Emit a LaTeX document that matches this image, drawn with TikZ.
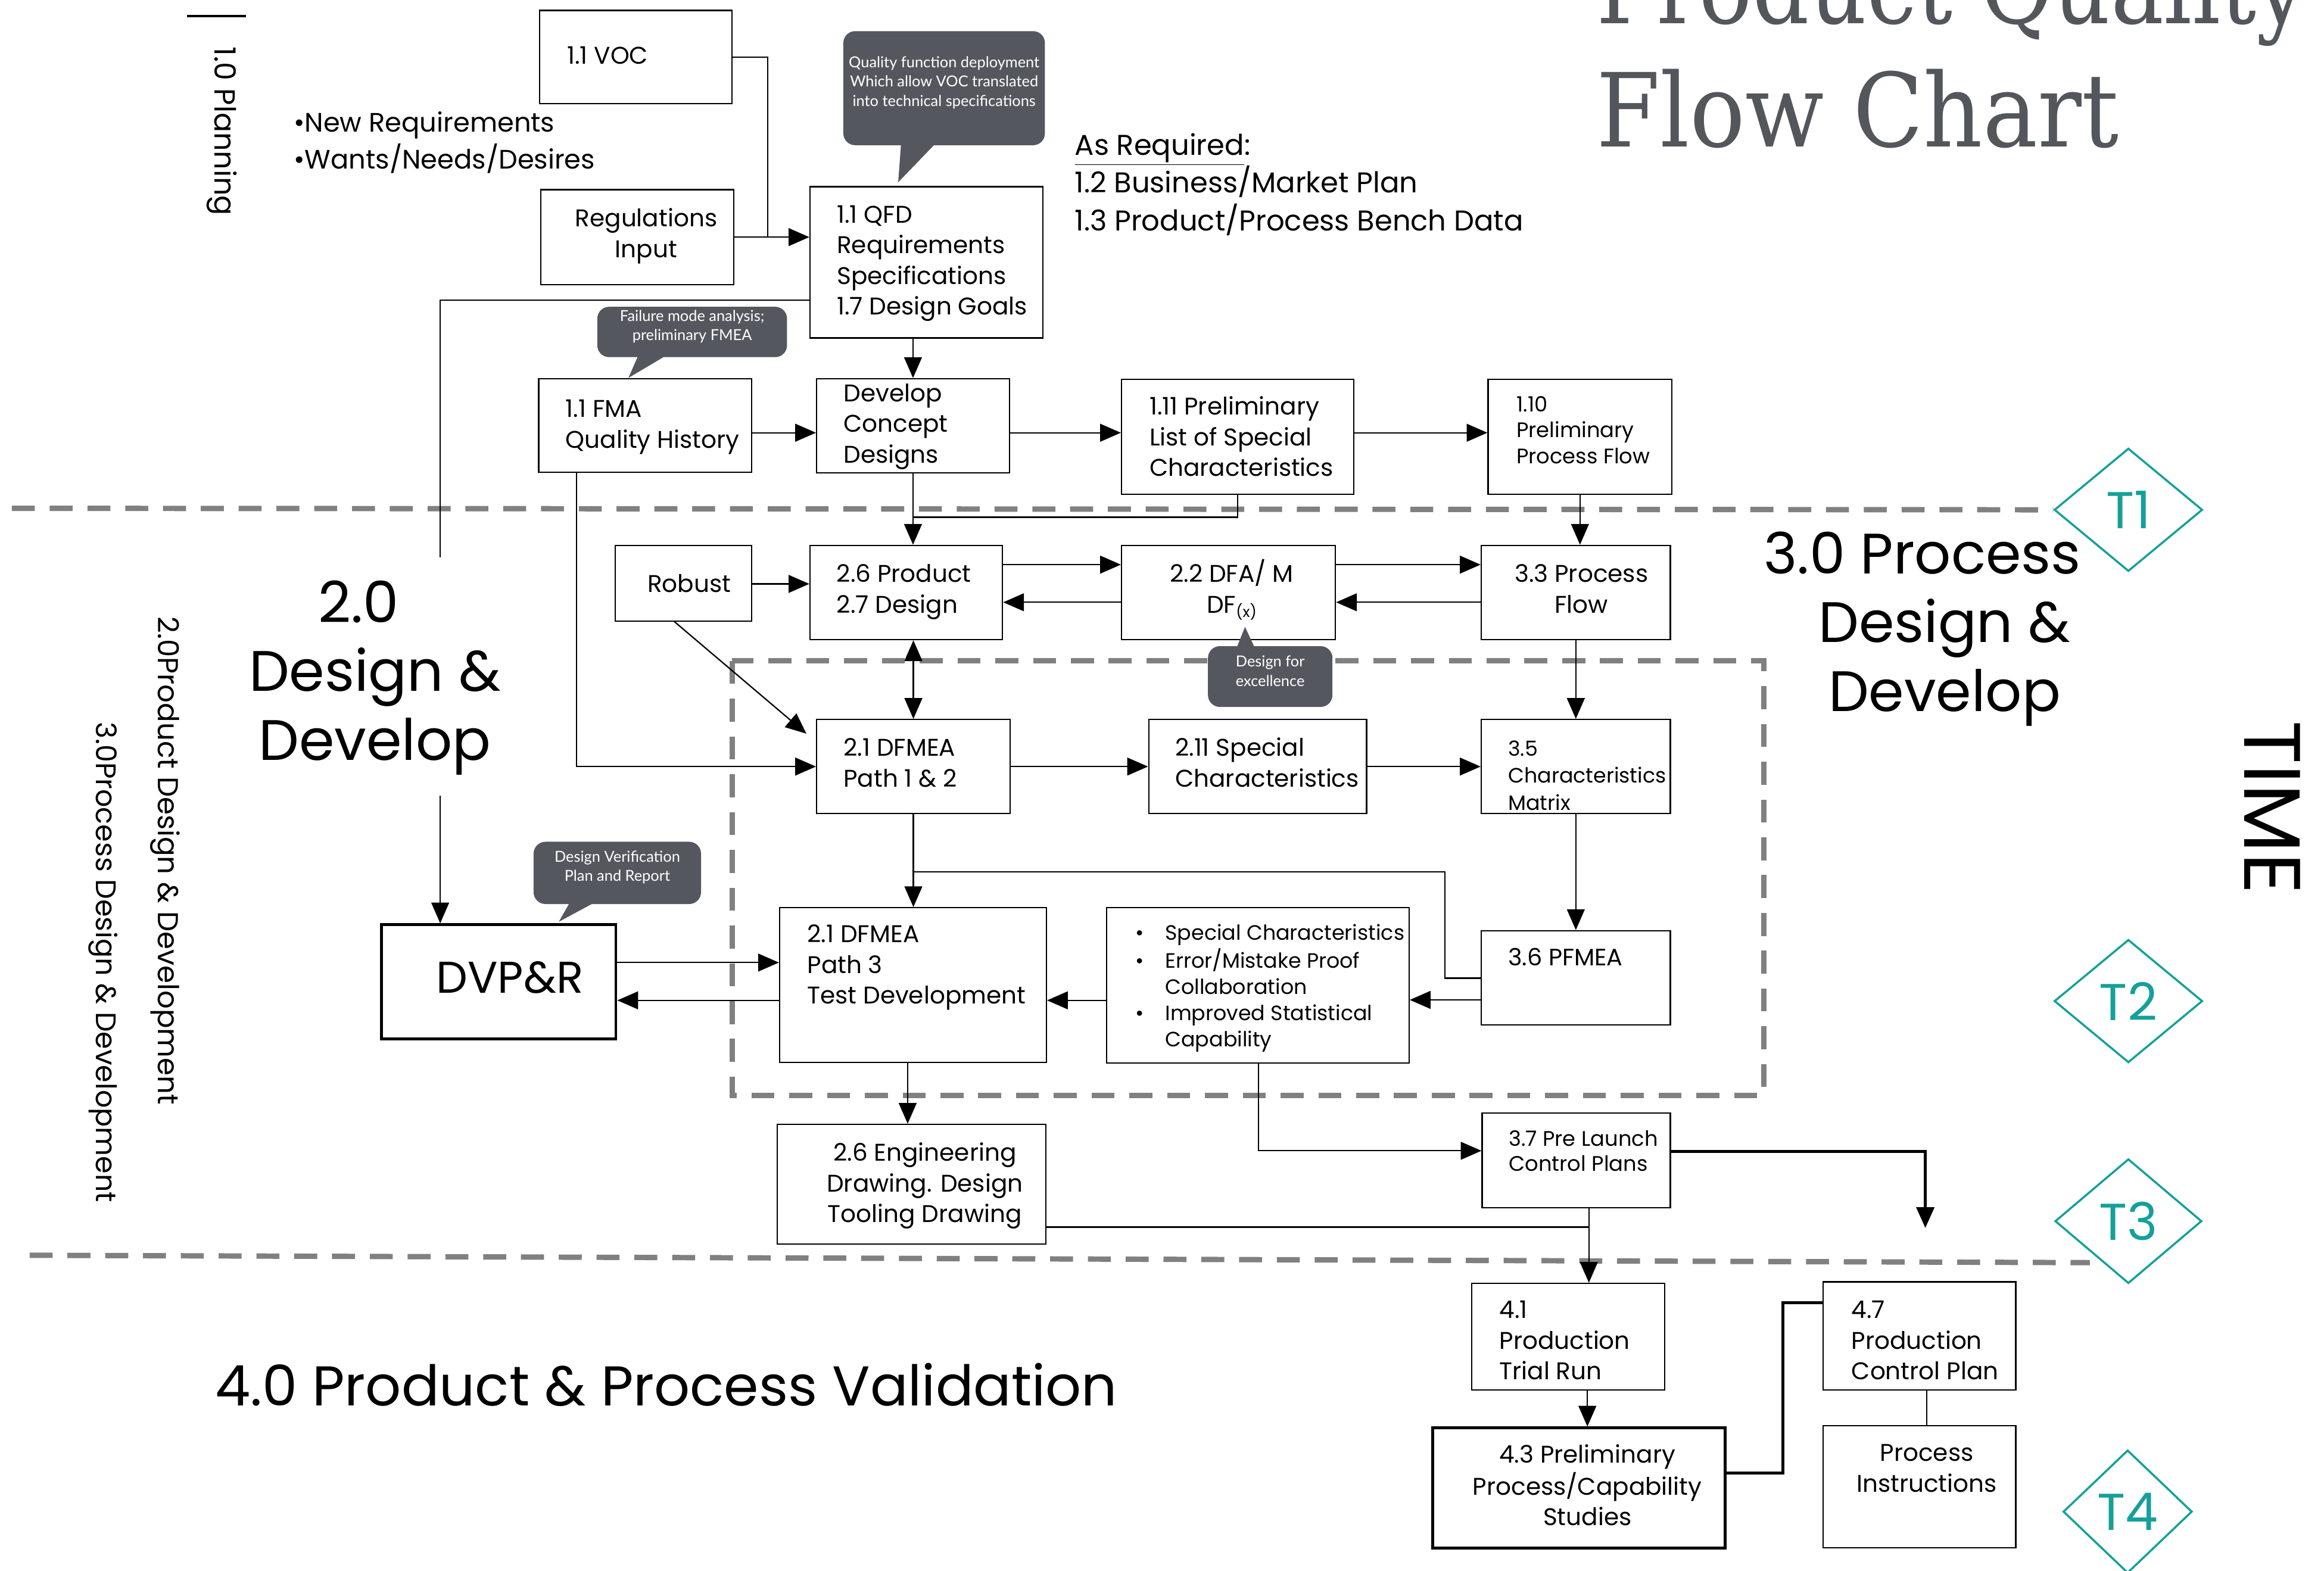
\documentclass[tikz,border=0pt]{standalone}
\usepackage{fontspec}
\setmainfont{Poppins}
\newfontfamily\notefont{Lato}
\newfontfamily\titlefont{DejaVu Serif}
\usetikzlibrary{arrows.meta,shapes.geometric,fit}
\definecolor{notegray}{HTML}{54585E}
\definecolor{sepgray}{HTML}{808080}
\definecolor{markteal}{HTML}{15A09A}
\definecolor{titlegray}{HTML}{53575C}
\newcommand\txtl[1]{\begin{tabular}[t]{@{}l@{}}#1\end{tabular}}
\newcommand\txtc[1]{\begin{tabular}[t]{@{}c@{}}#1\end{tabular}}
\newcommand\fmain{\fontsize{16.3}{20.7}\selectfont}
\newcommand\fsmall{\fontsize{14}{17.7}\selectfont}
\newcommand\fside{\fontsize{18}{24.8}\selectfont}
\newcommand\fhuge{\fontsize{38.5}{46.5}\selectfont}
\begin{document}
\begin{tikzpicture}[x=1pt,y=-1pt,
  box/.style={draw=black,line width=0.9pt,inner sep=0pt,fill=white},
  heavy/.style={box,line width=2pt},
  wire/.style={draw=black,line width=0.9pt},
  flow/.style={wire,-{Triangle[length=14pt,width=12pt]}},
  bothflow/.style={wire,{Triangle[length=14pt,width=12pt]}-{Triangle[length=14pt,width=12pt]}},
  boldwire/.style={draw=black,line width=1.8pt},
  sep/.style={draw=sepgray,line width=3.6pt,dash pattern=on 15.5pt off 10pt},
  note/.style={fill=notegray,rounded corners=8pt,inner sep=0pt,text=white,
    font=\notefont\fontsize{10.2}{13}\selectfont,align=center},
  txt/.style={inner sep=0pt,anchor=base west,font=\fmain},
  ctxt/.style={inner sep=0pt,anchor=base,font=\fmain},
  gate/.style={diamond,draw=markteal,line width=1.4pt,inner sep=0pt,text=markteal,
    font=\fontsize{35}{35}\selectfont},
  side/.style={inner sep=0pt,anchor=base west,rotate=-90},
]
\useasboundingbox (0,0) rectangle (1568,1059.7);

% ---------- phase separators ----------
\node[gate,minimum width=100pt,minimum height=83pt] (t1) at (1436,344) {T1};
\node[gate,minimum width=100pt,minimum height=83pt] (t2) at (1436,675.5) {T2};
\node[gate,minimum width=99pt,minimum height=84pt] (t3) at (1436,824) {T3};
\node[gate,minimum width=87pt,minimum height=83pt] (t4) at (1435.5,1020) {T4};
\coordinate (s1a) at (8,343);
\draw[sep] (s1a) -- (t1.west);
\coordinate (s3a) at (20,847);
\coordinate (s3b) at (1410,852);
\draw[sep] (s3a) -- (s3b);
\draw[sep] (494,446) rectangle (1190,739);

% ---------- title ----------
\node[inner sep=0pt,anchor=base west,text=titlegray,font=\titlefont\fontsize{69}{69}\selectfont]
  (title1) at (1077,16) {\scalebox{0.87}[1]{Product Quality}};
\node[inner sep=0pt,anchor=base west,text=titlegray,font=\titlefont\fontsize{69}{69}\selectfont]
  (title2) at (1077,99) {\scalebox{0.9}[1]{Flow Chart}};

% ---------- side headings ----------
\draw[line width=1.6pt] (126,11) -- (166,11);
\node[side,font=\fontsize{19.7}{20}\selectfont] (plan) at (144.7,31.5) {1.0 Planning};
\node[side,font=\fontsize{19.4}{20}\selectfont] (prodside) at (106.5,416) {2.0Product Design \& Development};
\node[side,font=\fontsize{19.1}{20}\selectfont] (procside) at (65,487) {3.0Process Design \& Development};
\node[side,font=\fontsize{54}{54}\selectfont] (time) at (1514.3,486.3) {TIME};
\node[inner sep=0pt,anchor=base,font=\fhuge] (ph2) at (253,420) {\txtc{2.0\hspace*{22pt}\\Design \&\\Develop}};
\node[inner sep=0pt,anchor=base,font=\fhuge] (ph3) at (1312,387) {\txtc{3.0 Process\hspace*{30pt}\\Design \&\\Develop}};
\node[inner sep=0pt,anchor=base west,font=\fontsize{37.8}{40}\selectfont] (ph4) at (145,948.6)
  {4.0 Product \& Process Validation};
\node[inner sep=0pt,anchor=base west,font=\fside] (needs) at (198,89)
  {\txtl{\textbullet New Requirements\\\textbullet Wants/Needs/Desires}};
\node[inner sep=0pt,anchor=base west,font=\fontsize{19.3}{24.7}\selectfont] (asreq) at (725,104.6)
  {\txtl{\underline{As Required}:\\1.2 Business/Market Plan\\1.3 Product/Process Bench Data}};

% ---------- boxes ----------
\node[box,fit={(364,7) (494,70)}] (voc) {};
\node[box,fit={(365,128) (495,192)}] (reg) {};
\node[box,fit={(546.5,126) (703.6,228)}] (qfd) {};
\node[box,fit={(363.5,255.6) (507,318.7)}] (fma) {};
\node[box,fit={(551,255.5) (681,319)}] (dev) {};
\node[box,fit={(756.7,256) (913.4,333.5)}] (p111) {};
\node[box,fit={(1004,256) (1128,333.5)}] (p110) {};
\node[box,fit={(415,368) (507,419)}] (rob) {};
\node[box,fit={(546.5,368) (676.4,431.6)}] (p26) {};
\node[box,fit={(756.7,368) (901,431.6)}] (p22) {};
\node[box,fit={(999.4,368) (1127,431.6)}] (p33) {};
\node[box,fit={(551,485.5) (681.5,549)}] (p21) {};
\node[box,fit={(775,485.5) (922,549)}] (p211) {};
\node[box,fit={(999.4,485.5) (1127,549)}] (p35) {};
\node[box,fit={(526,612.5) (706,717)}] (pth3) {};
\node[box,fit={(746.5,612.5) (950.7,717.3)}] (bul) {};
\node[box,fit={(999.4,628) (1127,691.6)}] (p36) {};
\node[heavy,fit={(257.5,624) (415.5,701)}] (dvp) {};
\node[box,fit={(524.5,758.7) (705.7,839.5)}] (eng) {};
\node[box,fit={(1000,751) (1127,815)}] (p37) {};
\node[box,fit={(993,866) (1123,938)}] (p41) {};
\node[heavy,fit={(966.5,963.6) (1164,1044.5)}] (p43) {};
\node[box,fit={(1230,865) (1360,938)}] (p47) {};
\node[box,fit={(1230,962) (1360,1044.5)}] (pinst) {};

% ---------- box texts ----------
\node[txt] (voc-t) at (382.5,43) {1.1 VOC};
\node[ctxt] (reg-t) at (436,153) {\txtc{Regulations\\Input}};
\node[txt] (qfd-t) at (564.5,150.3) {\txtl{1.1 QFD\\Requirements\\Specifications\\1.7 Design Goals}};
\node[txt] (fma-t) at (381.5,281.5) {\txtl{1.1 FMA\\Quality History}};
\node[txt] (dev-t) at (569,271) {\txtl{Develop\\Concept\\Designs}};
\node[txt] (p111-t) at (775.4,280) {\txtl{1.11 Preliminary\\List of Special\\Characteristics}};
\node[txt,font=\fontsize{14.2}{17.5}\selectfont] (p110-t) at (1023,277.7) {\txtl{1.10\\Preliminary\\Process Flow}};
\node[ctxt] (rob-t) at (465,399.6) {Robust};
\node[txt] (p26-t) at (564.3,392.8) {\txtl{2.6 Product\\2.7 Design}};
\node[ctxt] (p22-t) at (831,392.8) {\txtc{2.2 DFA/ M\\DF\raisebox{-3pt}{\fontsize{10}{10}\selectfont(x)}}};
\node[ctxt] (p33-t) at (1067,392.8) {\txtc{3.3 Process\\Flow}};
\node[txt] (p21-t) at (569,510.2) {\txtl{2.1 DFMEA\\Path 1 \& 2}};
\node[txt] (p211-t) at (792.7,510.2) {\txtl{2.11 Special\\Characteristics}};
\node[txt,font=\fontsize{14}{18.2}\selectfont] (p35-t) at (1017.4,510.2) {\txtl{3.5\\Characteristics\\Matrix}};
\node[txt] (pth3-t) at (544.5,636) {\txtl{2.1 DFMEA\\Path 3\\Test Development}};
\node[txt,font=\fsmall] (bul-t) at (766,634.5) {\txtl{%
  \makebox[20pt][l]{\textbullet}Special Characteristics\\
  \makebox[20pt][l]{\textbullet}Error/Mistake Proof\\
  \hspace*{20pt}Collaboration\\
  \makebox[20pt][l]{\textbullet}Improved Statistical\\
  \hspace*{20pt}Capability}};
\node[txt,font=\fontsize{16}{16}\selectfont] (p36-t) at (1017.4,651.7) {3.6 PFMEA};
\node[inner sep=0pt,anchor=base,font=\fontsize{30}{30}\selectfont] (dvp-t) at (344,670) {DVP\&R};
\node[ctxt] (eng-t) at (624,783.4) {\txtc{2.6 Engineering\\Drawing. Design\\Tooling Drawing}};
\node[txt,font=\fontsize{14.2}{17}\selectfont] (p37-t) at (1017.8,773.2) {\txtl{3.7 Pre Launch\\Control Plans}};
\node[txt] (p41-t) at (1011.5,889.6) {\txtl{4.1\\Production\\Trial Run}};
\node[ctxt] (p43-t) at (1071,987.2) {\txtc{4.3 Preliminary\\Process/Capability\\Studies}};
\node[txt] (p47-t) at (1249,889.6) {\txtl{4.7\\Production\\Control Plan}};
\node[ctxt] (pinst-t) at (1300,986) {\txtc{Process\\Instructions}};

% ---------- callouts ----------
\fill[notegray] (608,96) -- (632,96) -- (606,123) -- cycle;
\node[note,fit={(569,21) (705,98)}] (qfdnote) {Quality function deployment\\Which allow VOC translated\\into technical specifications};
\fill[notegray] (431,239) -- (451,239) -- (424,255) -- cycle;
\node[note,fit={(403,207) (531,241)}] (fmanote) {Failure mode analysis;\\preliminary FMEA};
\fill[notegray] (834,438) -- (847,438) -- (840,423) -- cycle;
\node[note,fit={(815,436) (899,477)}] (dfxnote) {Design for\\excellence};
\fill[notegray] (385,608) -- (403,608) -- (377,622) -- cycle;
\node[note,fit={(360,568) (473,610)}] (dvpnote) {Design Verification\\Plan and Report};

% ---------- connectors ----------
\draw[wire] (voc.east) -| (518,160);
\draw[flow] (reg.east) -- (qfd.west |- reg.east);
\coordinate (d2a) at (297,376);
\draw[wire] (qfd.west |- 0,202.6) -| (d2a);
\coordinate (d2b) at (297,537);
\draw[flow] (d2b) -- (d2b |- dvp.north);
\draw[flow] (qfd.south -| dev.north) -- (dev.north);
\draw[flow] (fma.east |- 0,292) -- (dev.west |- 0,292);
\draw[flow] (dev.east |- 0,292) -- (p111.west |- 0,292);
\draw[flow] (p111.east |- 0,292) -- (p110.west |- 0,292);
\draw[flow] (dev.south) -- (dev.south |- p26.north);
\draw[wire] (p111.south) |- (616,349);
\draw[flow] (p110.south) -- (p110.south |- p33.north);
\draw[flow] (rob.east |- 0,394) -- (p26.west |- 0,394);
\draw[flow] (p26.east |- 0,381) -- (p22.west |- 0,381);
\draw[flow] (p22.west |- 0,406.4) -- (p26.east |- 0,406.4);
\draw[flow] (p22.east |- 0,381) -- (p33.west |- 0,381);
\draw[flow] (p33.west |- 0,406.4) -- (p22.east |- 0,406.4);
\draw[bothflow] (p21.north |- p26.south) -- (p21.north);
\draw[flow] (rob.south -| 455,0) -- ([shift={(-6.5,10)}]p21.north west);
\draw[flow] (fma.south -| 389,0) |- (p21.west);
\draw[flow] (p21.east) -- (p211.west);
\draw[flow] (p211.east) -- (p35.west);
\draw[flow] (p33.south) -- (p35.north);
\draw[flow] (p35.south) -- (p35.south |- p36.north);
\draw[flow] (p21.south) -- (p21.south |- pth3.north);
\draw[wire] (p21.south |- 0,588.3) -| (975,660) -- (p36.west |- 0,660);
\draw[flow] (p36.west |- 0,674.7) -- (bul.east |- 0,674.7);
\draw[flow] (bul.west |- 0,675) -- (pth3.east |- 0,675);
\draw[flow] (dvp.east |- 0,649.5) -- (pth3.west |- 0,649.5);
\draw[flow] (pth3.west |- 0,675) -- (dvp.east |- 0,675);
\draw[flow] (pth3.south -| 612.4,0) -- (eng.north -| 612.4,0);
\draw[flow] (bul.south -| 849,0) |- (p37.west |- 0,776.5);
\coordinate (t3drop) at (1299,828.6);
\draw[boldwire,-{Triangle[length=14pt,width=12pt]}] (p37.east |- 0,777) -| (t3drop);
\draw[flow] (p37.south -| 1072,0) -- (p41.north -| 1072,0);
\draw[wire] (eng.east |- 0,828) -- (1072,828);
\draw[flow] (p41.south -| 1071,0) -- (p43.north -| 1071,0);
\draw[boldwire] (p43.east |- 0,994) -| (1203,879) -- (p47.west |- 0,879);
\draw[wire] (p47.south -| 1300,0) -- (pinst.north -| 1300,0);
\end{tikzpicture}
\end{document}
